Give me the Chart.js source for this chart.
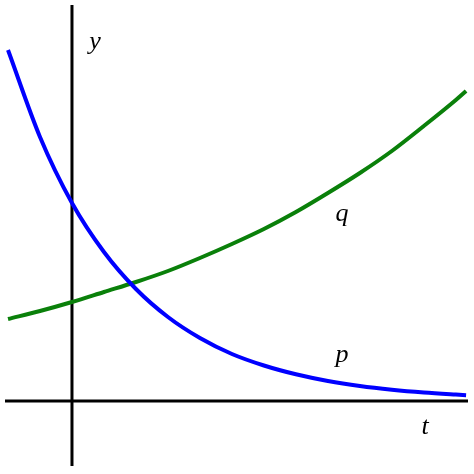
<!DOCTYPE html>
<html><head><meta charset="utf-8">
<script src="https://cdn.jsdelivr.net/npm/chart.js@4"></script>
<style>html,body{margin:0;padding:0;background:#fff}#w{width:474px;height:474px}</style>
</head><body><div id="w"><canvas id="c"></canvas></div>
<script>
const tValues=[-1,-0.5,0,0.5,1,1.5,2,2.5,3,3.5,4,4.5,5,5.5,6,6.16];
const pValues=[3.51,2.64,1.98,1.49,1.12,0.84,0.63,0.47,0.355,0.267,0.20,0.15,0.113,0.085,0.064,0.058];
const qValues=[0.82,0.90,0.99,1.09,1.19,1.30,1.43,1.57,1.72,1.89,2.08,2.28,2.50,2.75,3.01,3.10];
const labels=[{text:'y',t:0.36,v:3.59},{text:'t',t:5.52,v:-0.26},{text:'q',t:4.22,v:1.87},{text:'p',t:4.22,v:0.46}];
const axisPlugin={id:'ax',beforeDatasetsDraw(ch){const {ctx,scales:{x,y}}=ch;ctx.save();ctx.strokeStyle='#000';ctx.lineWidth=3;
ctx.beginPath();ctx.moveTo(x.getPixelForValue(0),y.top);ctx.lineTo(x.getPixelForValue(0),y.bottom);
ctx.moveTo(x.left,y.getPixelForValue(0));ctx.lineTo(x.right,y.getPixelForValue(0));ctx.stroke();ctx.restore();},
afterDatasetsDraw(ch){const {ctx,scales:{x,y}}=ch;ctx.save();ctx.fillStyle='#000';ctx.font='italic 26px "Liberation Serif"';ctx.textAlign='center';ctx.textBaseline='middle';
labels.forEach(l=>ctx.fillText(l.text,x.getPixelForValue(l.t),y.getPixelForValue(l.v)));ctx.restore();}};
new Chart(document.getElementById('c'),{type:'line',
data:{labels:tValues,datasets:[
{data:tValues.map((t,i)=>({x:t,y:pValues[i]})),borderColor:'#0000ff',borderWidth:4,pointRadius:0,cubicInterpolationMode:'monotone'},
{data:tValues.map((t,i)=>({x:t,y:qValues[i]})),borderColor:'#0a800a',borderWidth:4,pointRadius:0,cubicInterpolationMode:'monotone'}]},
options:{responsive:true,maintainAspectRatio:false,animation:false,layout:{padding:{left:5,right:6,top:5,bottom:8}},
plugins:{legend:{display:false},tooltip:{enabled:false}},
scales:{x:{type:'linear',min:-1.047,max:6.19,display:false},y:{min:-0.65,max:3.96,display:false}}},
plugins:[axisPlugin]});
</script></body></html>
